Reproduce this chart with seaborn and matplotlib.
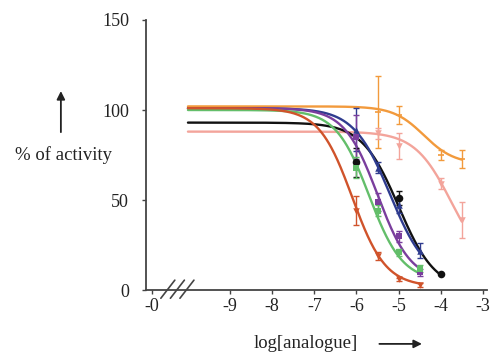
import numpy as np
import pandas as pd
import matplotlib
matplotlib.use("Agg")
import matplotlib.pyplot as plt
import seaborn as sns

# series (curve colour order as in the picture)
series = ["orange", "pink", "black", "navy", "purple", "green", "red"]
colors = ["#F29A3C", "#F3A49B", "#111111", "#2F3C8F", "#7A3E9D", "#63BE6A", "#D0532B"]
markers = ["_", "v", "o", "^", "s", "s", "v"]

# fitted dose-response parameters
fit_top = [102, 88, 93, 101, 101, 100, 101]
fit_bottom = [70, 10, 0, 5, 5, 5, 2]
fit_logic50 = [-4.4, -3.75, -5.0, -5.2, -5.5, -5.7, -6.1]
fit_hill = [1.2, 1.0, 1.0, 1.0, 1.1, 1.1, 1.1]
fit_end = [-3.5, -3.5, -4.0, -4.5, -4.5, -4.5, -4.5]
fit_start = -10.0

# measured points (log conc, % activity, error)
orange_x = [-5.5, -5.0, -4.0, -3.5]
orange_y = [99, 97, 75, 73]
orange_err = [20, 5, 3, 5]
pink_x = [-5.5, -5.0, -4.0, -3.5]
pink_y = [87, 80, 59, 39]
pink_err = [3, 7, 3, 10]
black_x = [-6.0, -5.0, -4.0]
black_y = [71, 51, 9]
black_err = [8, 4, 0]
navy_x = [-6.0, -5.5, -5.0, -4.5]
navy_y = [89, 68, 47, 22]
navy_err = [12, 3, 4, 4]
purple_x = [-6.0, -5.5, -5.0, -4.5]
purple_y = [85, 49, 30, 10]
purple_err = [12, 5, 3, 2]
green_x = [-6.0, -5.5, -5.0, -4.5]
green_y = [68, 44, 21, 12]
green_err = [6, 3, 2, 2]
red_x = [-6.0, -5.5, -5.0, -4.5]
red_y = [44, 19, 6, 3]
red_err = [8, 2, 1, 1]

tick_pos = [-10.86, -9, -8, -7, -6, -5, -4, -3]
tick_labels = ["-0", "-9", "-8", "-7", "-6", "-5", "-4", "-3"]

points = {
    "orange": (orange_x, orange_y, orange_err),
    "pink": (pink_x, pink_y, pink_err),
    "black": (black_x, black_y, black_err),
    "navy": (navy_x, navy_y, navy_err),
    "purple": (purple_x, purple_y, purple_err),
    "green": (green_x, green_y, green_err),
    "red": (red_x, red_y, red_err),
}

# evaluate each fitted curve
rows = []
for i, s in enumerate(series):
    xs = np.linspace(fit_start, fit_end[i], 300)
    ys = fit_bottom[i] + (fit_top[i] - fit_bottom[i]) / (1 + 10 ** ((xs - fit_logic50[i]) * fit_hill[i]))
    rows.append(pd.DataFrame({"x": xs, "y": ys, "series": s}))
curves = pd.concat(rows, ignore_index=True)

sns.set_style("ticks")
plt.rcParams["font.family"] = ["Liberation Serif", "DejaVu Serif"]

fig = plt.figure(figsize=(4.91, 3.56), dpi=100)
ax = fig.add_axes([0.297, 0.185, 0.695, 0.759])

pal = dict(zip(series, colors))
sns.lineplot(data=curves, x="x", y="y", hue="series", palette=pal,
             legend=False, linewidth=1.7, ax=ax)

for i, s in enumerate(series):
    px, py, pe = points[s]
    ax.errorbar(px, py, yerr=pe, fmt="none", ecolor=colors[i], elinewidth=1.0,
                capsize=2.5, capthick=1.0, zorder=3)
    df = pd.DataFrame({"x": px, "y": py})
    size = 22 if s != "black" else 30
    sns.scatterplot(data=df, x="x", y="y", color=colors[i], marker=markers[i],
                    s=size, linewidth=0 if markers[i] != "_" else 1.2,
                    edgecolor=colors[i], zorder=4, ax=ax)

ax.set_xlim(-11, -2.9)
ax.set_ylim(0, 150)
ax.set_yticks([0, 50, 100, 150])
ax.set_xticks(tick_pos)
ax.set_xticklabels(tick_labels)
ax.set_xlabel("")
ax.set_ylabel("")
sns.despine(ax=ax)
for sp in ["left", "bottom"]:
    ax.spines[sp].set_color("#444444")
    ax.spines[sp].set_linewidth(1.3)
ax.tick_params(axis="both", colors="#444444", labelcolor="#222222",
               labelsize=13, length=3, width=1.0)
ax.tick_params(axis="y", pad=9)
ax.tick_params(axis="x", pad=3)

# axis-break marks
for dx in [0.044, 0.072, 0.100]:
    ax.plot([dx, dx + 0.041], [-0.03, 0.037], transform=ax.transAxes,
            color="#444444", lw=1.2, clip_on=False)

fig.text(0.129, 0.565, "% of activity", ha="center", va="center",
         fontsize=13.5, color="#222222")
fig.text(0.623, 0.036, "log[analogue]", ha="center", va="center",
         fontsize=13.5, color="#222222")
ax.annotate("", xy=(0.124, 0.752), xytext=(0.124, 0.621), xycoords="figure fraction",
            arrowprops=dict(arrowstyle="-|>", color="#222222", lw=1.3, mutation_scale=12))
ax.annotate("", xy=(0.865, 0.034), xytext=(0.767, 0.034), xycoords="figure fraction",
            arrowprops=dict(arrowstyle="-|>", color="#222222", lw=1.3, mutation_scale=12))

fig.savefig("out.png", dpi=100)
